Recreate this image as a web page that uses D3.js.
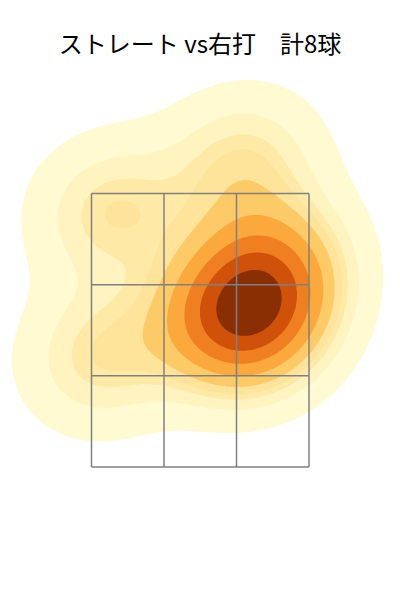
<!DOCTYPE html>
<html>
<head>
<meta charset="utf-8">
<script src="https://cdn.jsdelivr.net/npm/d3@7"></script>
<style>
  body { margin: 0; background: #fff; }
  svg { display: block; }
</style>
</head>
<body>
<div class="content-container"></div>
<script>
// pitch locations (zone units: x across plate, z height; grid is 3x3 units)
const pitchX = [-1.22, 0.57, 0.37, 0.73, 0.59, 1.06, 0.78, -1.35];
const pitchZ = [2.80, 3.31, 1.59, 1.92, 1.74, 2.25, 1.56, 1.22];
const zoneCols = [-1.5, -0.5, 0.5, 1.5];
const zoneRows = [0, 1, 2, 3];
const title = "ストレート vs右打\u3000計" + pitchX.length + "球";
const bwAdjust = 1.08;

const width = 400;
const height = 600;
const bandColors = ["#fffad2", "#fff3c0", "#feeaa6", "#fee39a", "#fdca68", "#fba93c", "#f07f22", "#d0520a", "#8a2e04"];

const xScale = d3.scaleLinear().domain([-1.5, 1.5]).range([91.5, 309]);
const yScale = d3.scaleLinear().domain([0, 3]).range([467, 193.5]);

const svg = d3.select(".content-container").append("svg")
  .attr("width", width)
  .attr("height", height);

svg.append("text")
  .attr("x", 200)
  .attr("y", 53)
  .attr("text-anchor", "middle")
  .style("font-family", "'Noto Sans CJK JP', 'Noto Sans', sans-serif")
  .style("font-size", "24px")
  .style("fill", "#000")
  .text(title);

// gaussian KDE with scott bandwidth (full covariance), computed in pixel space
const pts = pitchX.map((x, i) => [xScale(x), yScale(pitchZ[i])]);
const n = pts.length;
const mx = d3.mean(pts, d => d[0]);
const my = d3.mean(pts, d => d[1]);
let sxx = 0, syy = 0, sxy = 0;
pts.forEach(d => {
  sxx += (d[0] - mx) * (d[0] - mx);
  syy += (d[1] - my) * (d[1] - my);
  sxy += (d[0] - mx) * (d[1] - my);
});
const f2 = Math.pow(n, -2 / 6) * bwAdjust * bwAdjust;
const kxx = sxx / (n - 1) * f2, kyy = syy / (n - 1) * f2, kxy = sxy / (n - 1) * f2;
const det = kxx * kyy - kxy * kxy;
const ixx = kyy / det, iyy = kxx / det, ixy = -kxy / det;

const step = 2;
const x0 = -300, y0 = -300;
const nx = 500, ny = 600;
const values = new Float64Array(nx * ny);
for (let j = 0; j < ny; j++) {
  const py = y0 + (j + 0.5) * step;
  for (let i = 0; i < nx; i++) {
    const px = x0 + (i + 0.5) * step;
    let s = 0;
    for (let k = 0; k < n; k++) {
      const dx = px - pts[k][0], dy = py - pts[k][1];
      s += Math.exp(-0.5 * (dx * dx * ixx + 2 * dx * dy * ixy + dy * dy * iyy));
    }
    values[j * nx + i] = s;
  }
}

// iso-proportion levels (like seaborn kdeplot, levels=10, thresh=0.05)
const sorted = Array.from(values).sort((a, b) => b - a);
const total = d3.sum(sorted);
const cum = [];
let acc = 0;
for (let i = 0; i < sorted.length; i++) { acc += sorted[i]; cum.push(acc / total); }
const props = d3.range(10).map(i => 0.05 + i * 0.95 / 9);
const levels = props.map(p => {
  const idx = d3.bisectLeft(cum, 1 - p);
  return sorted[Math.min(idx, sorted.length - 1)];
}).slice(0, 9);

const contours = d3.contours().size([nx, ny]).thresholds(levels)(values);
const path = d3.geoPath(d3.geoIdentity().scale(step).translate([x0, y0]));

svg.append("g")
  .selectAll("path")
  .data(contours)
  .join("path")
  .attr("d", path)
  .attr("fill", (d, i) => bandColors[i])
  .attr("stroke", "none");

// zone grid
const grid = svg.append("g")
  .attr("fill", "none")
  .attr("stroke", "#808080")
  .attr("stroke-width", 1.5);

grid.selectAll("line.v")
  .data(zoneCols)
  .join("line")
  .attr("class", "v")
  .attr("x1", d => xScale(d))
  .attr("x2", d => xScale(d))
  .attr("y1", yScale(3))
  .attr("y2", yScale(0));

grid.selectAll("line.h")
  .data(zoneRows)
  .join("line")
  .attr("class", "h")
  .attr("x1", xScale(-1.5))
  .attr("x2", xScale(1.5))
  .attr("y1", d => yScale(d))
  .attr("y2", d => yScale(d));
</script>
</body>
</html>
